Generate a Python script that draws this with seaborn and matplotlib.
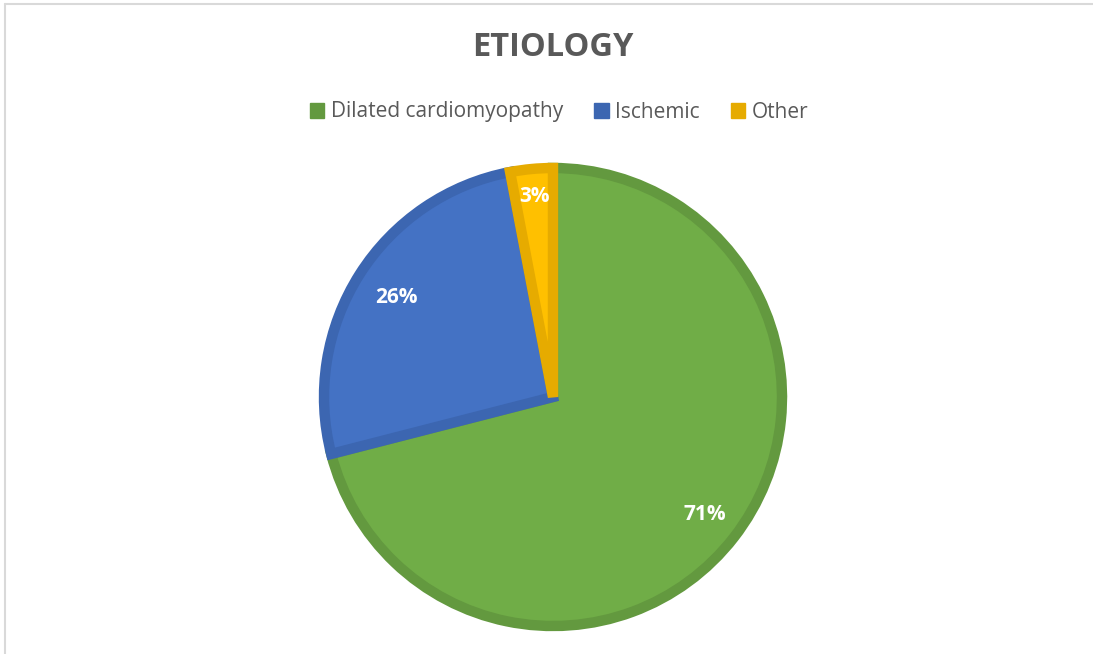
import matplotlib
matplotlib.use("Agg")
import matplotlib.pyplot as plt
import seaborn as sns
import numpy as np
from matplotlib.lines import Line2D
from matplotlib.patches import Patch

# Data
categories = ["Dilated cardiomyopathy", "Ischemic", "Other"]
shares = [71, 26, 3]
fill_colors = ["#70AD47", "#4472C4", "#FFC000"]
edge_colors = ["#63993F", "#3C66B1", "#E6AB00"]
label_dist = [0.84, 0.81, 0.88]

sns.set_theme(style="white")
plt.rcParams["font.family"] = ["Open Sans", "DejaVu Sans"]

W, H = 1093, 654
fig = plt.figure(figsize=(W / 100, H / 100), dpi=100)
fig.patch.set_facecolor("white")

# pie axes: centre (553, 397) px, radius ~229 px
cx, cy, R = 553, 397, 229
ax = fig.add_axes([(cx - R) / W, (H - cy - R) / H, 2 * R / W, 2 * R / H])
wedges, texts, autotexts = ax.pie(
    shares,
    colors=fill_colors,
    startangle=90,
    counterclock=False,
    radius=1,
    autopct="%1.0f%%",
    pctdistance=0.83,
    wedgeprops=dict(linewidth=7.5, joinstyle="miter"),
    textprops=dict(color="white", fontsize=15, fontweight="bold"),
)
for w, ec, t, d in zip(wedges, edge_colors, autotexts, label_dist):
    w.set_edgecolor(ec)
    w.set_clip_on(False)
    ang = np.deg2rad((w.theta1 + w.theta2) / 2)
    t.set_position((d * np.cos(ang), d * np.sin(ang)))
    t.set_clip_on(False)
ax.set_xlim(-1, 1)
ax.set_ylim(-1, 1)
ax.set_aspect("equal")
ax.axis("off")

# title
fig.text(553 / W, 1 - 48 / H, "ETIOLOGY", ha="center", va="center",
         fontsize=23.5, fontweight="bold", color="#595959")

# legend
handles = [Patch(facecolor=c, edgecolor=c) for c in edge_colors]
fig.legend(handles, categories, loc="center", bbox_to_anchor=(559 / W, 1 - 112 / H),
           ncol=3, frameon=False, fontsize=15, labelcolor="#595959",
           handlelength=0.7, handleheight=0.7, handletextpad=0.3,
           columnspacing=1.5)

# chart frame (light gray)
fig.add_artist(Line2D([5 / W, 5 / W], [0, 1 - 4 / H], color="#D9D9D9", lw=1.5))
fig.add_artist(Line2D([5 / W, 1], [1 - 4 / H, 1 - 4 / H], color="#D9D9D9", lw=1.5))

fig.savefig("out.png", dpi=100, facecolor="white")
